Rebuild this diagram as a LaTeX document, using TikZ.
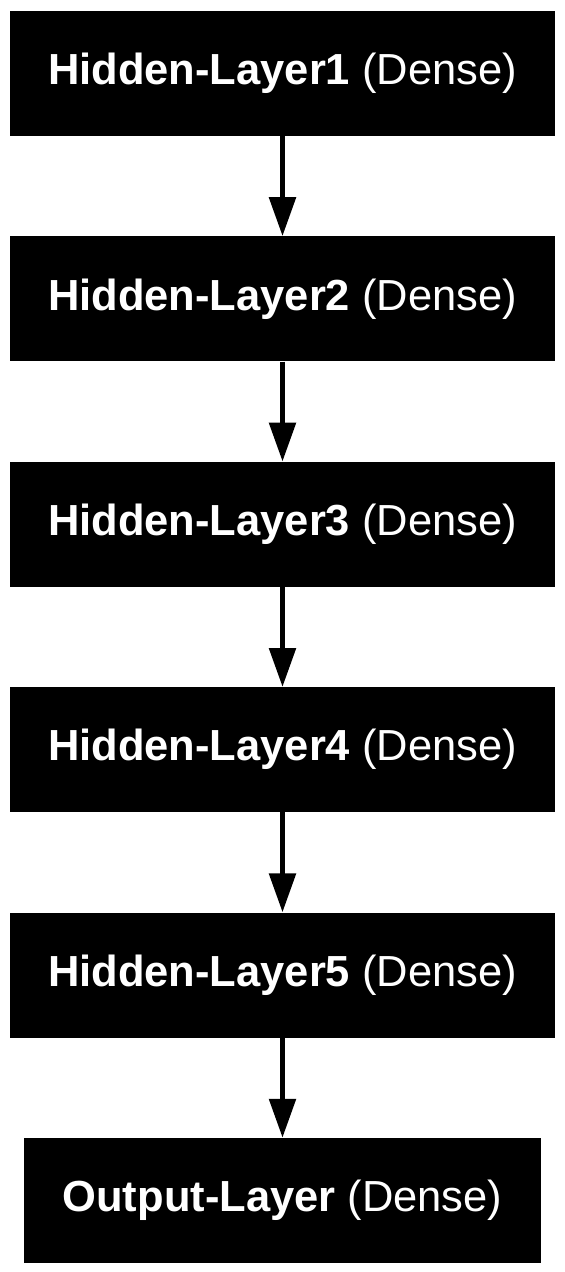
\documentclass[tikz,border=0pt]{standalone}
\usepackage{fontspec}
\setmainfont{Liberation Sans}
\usetikzlibrary{positioning,arrows.meta}
\tikzset{>={Triangle[width=26pt,length=39pt]}}
\tikzset{layer/.style={fill=black,text=white,minimum height=125pt,minimum width=545pt,
  inner sep=0pt,font=\fontsize{43.5}{52}\selectfont}}
\newcommand*{\lyr}[1]{\textbf{#1} (Dense)}

\begin{document}
\begin{tikzpicture}[x=1pt,y=1pt,node distance=100pt]
\useasboundingbox (0,0) rectangle (565,-1272);
\node[layer] (h1) at (282.5,-73.5) {\lyr{Hidden-Layer1}};
\node[layer,below=of h1] (h2) {\lyr{Hidden-Layer2}};
\node[layer,below=of h2] (h3) {\lyr{Hidden-Layer3}};
\node[layer,below=of h3] (h4) {\lyr{Hidden-Layer4}};
\node[layer,below=of h4] (h5) {\lyr{Hidden-Layer5}};
\node[layer,below=of h5,minimum width=517pt] (out) {\lyr{Output-Layer}};
\foreach \a/\b in {h1/h2,h2/h3,h3/h4,h4/h5,h5/out}
  \draw[->,line width=5.5pt] (\a) -- (\b);
\end{tikzpicture}
\end{document}
